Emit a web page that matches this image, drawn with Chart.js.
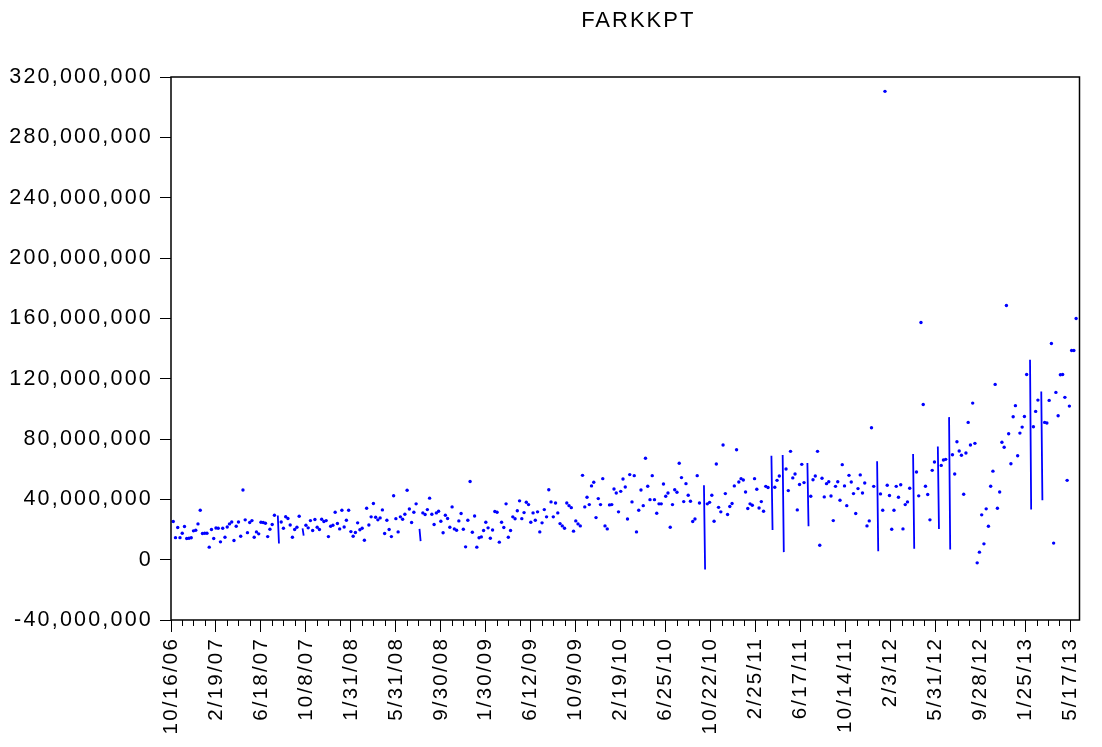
<!DOCTYPE html>
<html>
<head>
<meta charset="utf-8">
<script src="https://cdn.jsdelivr.net/npm/chart.js@4.4.1/dist/chart.umd.min.js"></script>
<style>
  html, body { margin: 0; padding: 0; background: #fff; }
  #wrap { width: 1102px; height: 747px; }
</style>
</head>
<body>
<div id="wrap"><canvas id="grafico" width="1102" height="747"></canvas></div>
<script>
// FARKKPT in millions. Only the non-missing observations are listed:
// obsNo[i] is the observation number, farkkpt[i] its value.
const obsNo = [
  2, 4, 6, 8, 10, 12, 14, 16, 18, 20,
  22, 24, 26, 28, 30, 32, 34, 36, 38, 40,
  42, 44, 46, 48, 50, 52, 54, 56, 58, 60,
  62, 64, 66, 68, 70, 72, 74, 76, 78, 80,
  82, 84, 86, 88, 90, 92, 95, 96, 98, 100,
  102, 104, 106, 108, 110, 112,
  114, 117, 118, 120, 122, 124, 126, 128, 130, 132,
  134, 136, 138, 140, 142, 144, 146, 148, 150, 152,
  154, 156, 158, 160, 162, 164, 166, 168, 170, 172,
  174, 176, 178, 180, 182, 184, 186, 188, 190, 192,
  194, 196, 198, 200, 202, 204, 206, 208, 210, 212,
  214, 216, 218, 221, 222,
  224, 226, 228, 230, 232, 234, 236, 238, 240, 242,
  244, 246, 248, 250, 252, 254, 256, 258, 260, 262,
  264, 266, 268, 270, 272, 274, 276, 278, 280, 282,
  284, 286, 288, 290, 292, 294, 296, 298, 300, 302,
  304, 306, 308, 310, 312, 314, 316, 318, 320, 322,
  324, 326, 328, 330, 332, 334,
  336, 338, 340, 342, 344, 346, 348, 350, 352, 354,
  356, 358, 360, 362, 364, 366, 368, 370, 372, 374,
  376, 378, 380, 382, 384, 386, 388, 390, 392, 394,
  396, 398, 400, 402, 404, 406, 408, 410, 412, 414,
  416, 418, 420, 422, 424, 426, 428, 430, 432, 434,
  436, 438, 440, 442, 444,
  446, 448, 450, 452, 454, 456, 458, 460, 462, 464,
  466, 468, 470, 474, 475, 477, 479, 481, 483, 485,
  487, 489, 491, 493, 495, 497, 499, 501, 503, 505,
  507, 509, 511, 513, 515, 517, 519, 521, 523, 525,
  527, 529, 531, 534, 535, 537, 539, 541, 544, 545,
  547, 549, 551, 553, 555, 557,
  559, 561, 563, 566, 567, 569, 571, 573, 575, 577,
  579, 581, 583, 585, 587, 589, 591, 593, 595, 597,
  599, 601, 603, 605, 607, 609, 611, 613, 615, 617,
  619, 621, 623, 625, 628, 629, 631, 633, 635, 637,
  639, 641, 643, 645, 647, 649, 651, 653, 655,
  657, 660, 661, 663, 665, 667, 669, 671, 673, 675,
  677, 679, 682, 683, 685, 687, 689, 692, 693, 695,
  697, 699, 701, 703, 705, 707, 709, 711, 713, 715,
  717, 719, 721, 723, 725, 727, 729, 731,
  733, 735, 737, 739, 741, 743, 745, 747, 749, 751,
  753, 755, 757, 759, 761, 764, 765, 767, 769, 771,
  774, 775, 777, 779, 781, 783, 785, 787, 789, 791,
  793, 795, 797, 799, 801, 803, 805
];
const farkkpt = [
  25.3, 14.6, 21.3, 14.6, 17.5, 22.0, 14.0, 14.2, 14.5, 19.1,
  19.5, 23.7, 32.8, 17.3, 17.5, 17.5, 8.3, 20.0, 14.0, 21.0,
  20.8, 11.8, 20.8, 14.9, 21.7, 23.7, 25.0, 12.7, 22.2, 25.0,
  15.5, 46.2, 26.4, 17.9, 24.6, 25.9, 14.9, 18.4, 17.1, 24.8,
  24.6, 24.1, 15.3, 20.2, 23.3, 29.4, 29.3, 10.7, 25.0, 20.8,
  28.5, 27.3, 23.0, 14.9, 20.0, 21.5,
  28.8, 20.8, 16.0, 22.8, 21.1, 25.9, 19.3, 26.6, 21.5, 20.0,
  26.8, 25.3, 25.9, 15.3, 22.2, 22.8, 31.4, 24.0, 20.4, 32.8,
  21.7, 26.1, 32.8, 18.6, 15.5, 18.0, 24.4, 19.8, 20.8, 12.9,
  34.1, 23.0, 28.4, 37.2, 28.1, 26.4, 27.7, 33.0, 17.3, 26.1,
  20.0, 15.3, 42.4, 27.2, 18.4, 28.4, 26.8, 30.1, 46.0, 33.6,
  24.6, 31.4, 37.0, 20.4, 12.3,
  31.0, 29.9, 33.2, 40.8, 30.1, 23.3, 31.0, 32.1, 25.5, 17.8,
  29.4, 27.3, 21.5, 35.0, 20.4, 19.5, 25.7, 30.6, 20.2, 8.5,
  26.1, 51.8, 18.2, 29.0, 8.3, 14.5, 15.1, 19.3, 24.8, 21.1,
  14.2, 19.7, 31.9, 31.4, 11.6, 24.8, 21.3, 37.0, 14.9, 19.3,
  28.4, 27.1, 32.4, 39.0, 27.2, 31.2, 38.1, 36.5, 24.8, 31.0,
  26.1, 31.7, 18.4, 24.4, 33.2, 28.4,
  46.4, 38.3, 28.4, 37.6, 31.0, 23.9, 22.4, 20.8, 37.6, 35.8,
  34.5, 18.9, 25.7, 23.7, 22.4, 55.9, 35.0, 41.4, 36.5, 48.9,
  51.3, 27.9, 40.5, 36.5, 53.7, 22.4, 20.4, 36.3, 36.5, 46.9,
  44.2, 31.7, 45.3, 53.5, 48.2, 27.0, 56.4, 38.3, 55.7, 18.4,
  32.8, 46.2, 35.8, 67.2, 48.7, 39.8, 55.7, 39.8, 30.8, 37.0,
  37.0, 50.2, 42.0, 44.2, 21.5,
  36.5, 46.4, 44.7, 63.9, 54.4, 38.5, 50.4, 42.7, 38.7, 25.3,
  27.0, 55.7, 37.6, 49.3, -6.5, 37.0, 38.0, 42.7, 25.5, 63.4,
  34.7, 31.7, 76.0, 43.8, 29.9, 35.2, 37.2, 48.9, 72.9, 51.5,
  53.7, 52.8, 44.9, 33.9, 37.0, 36.1, 53.7, 46.7, 34.3, 38.5,
  32.1, 48.6, 47.8, 68.9, 19.7, 48.0, 52.6, 55.5, 69.4, 5.0,
  60.1, 45.8, 71.8, 54.2, 56.8, 33.0,
  49.8, 63.2, 51.1, 64.1, 22.2, 42.0, 53.0, 55.5, 71.8, 9.6,
  54.0, 41.6, 50.4, 51.7, 42.2, 25.9, 48.6, 51.7, 39.4, 63.0,
  48.9, 35.8, 55.9, 51.5, 43.8, 30.6, 47.1, 56.2, 44.2, 50.8,
  22.4, 25.7, 87.5, 48.6, 65.2, 5.6, 43.6, 32.8, 310.5, 49.3,
  42.5, 20.2, 32.8, 48.6, 41.4, 49.7, 20.4, 36.5, 38.3,
  47.3, 70.0, 7.2, 58.1, 42.3, 157.2, 102.9, 48.7, 43.2, 26.4,
  59.2, 64.8, 75.1, 20.4, 62.5, 66.1, 66.5, 94.5, 6.7, 69.6,
  56.8, 78.2, 72.0, 69.2, 43.4, 70.7, 91.0, 76.0, 103.8, 77.1,
  -2.1, 5.0, 29.7, 10.5, 33.7, 22.2, 48.7, 58.7,
  116.2, 34.1, 44.9, 77.8, 74.5, 168.5, 83.5, 63.6, 94.8, 102.1,
  68.9, 83.9, 87.9, 94.9, 122.8, 132.5, 33.2, 88.1, 98.3, 105.8,
  111.5, 39.4, 91.0, 90.6, 105.6, 143.3, 11.0, 110.9, 95.4, 122.6,
  122.8, 107.6, 52.6, 101.8, 138.7, 138.7, 159.9
];

// date labels, one every 40 observations
const tickDates = [
  '10/16/06', '2/19/07', '6/18/07', '10/8/07', '1/31/08', '5/31/08', '9/30/08',
  '1/30/09', '6/12/09', '10/9/09', '2/19/10', '6/25/10', '10/22/10', '2/25/11',
  '6/17/11', '10/14/11', '2/3/12', '5/31/12', '9/28/12', '1/25/13', '5/17/13'
];
const nObs = 808;
const obsPerTick = 40;
const obsPerMinor = 10;

// full sample with NA (null) where there is no observation,
// so the line only joins consecutive observations
const serie = [];
for (let i = 0; i <= nObs; i++) serie.push({ x: i, y: null });
obsNo.forEach((n, i) => { serie[n].y = farkkpt[i]; });

function isolated(ctx) {
  const i = ctx.dataIndex;
  const prev = serie[i - 1], next = serie[i + 1];
  return (!prev || prev.y === null) && (!next || next.y === null);
}

const FONTE = "'Liberation Sans', Arial, sans-serif";

// eviews-like frame, minor ticks and title
const moldura = {
  id: 'moldura',
  beforeDraw(chart) {
    chart.ctx.letterSpacing = '2.2px';
  },
  afterDraw(chart) {
    const { ctx, chartArea: a } = chart;
    const xs = chart.scales.x;
    ctx.save();
    ctx.strokeStyle = '#000';
    ctx.lineWidth = 1.5;
    ctx.strokeRect(a.left, a.top, a.right - a.left, a.bottom - a.top);
    ctx.lineWidth = 1;
    for (let i = 0; i <= nObs; i += obsPerMinor) {
      if (i % obsPerTick === 0) continue;
      const px = Math.round(xs.getPixelForValue(i)) + 0.5;
      ctx.beginPath();
      ctx.moveTo(px, a.bottom);
      ctx.lineTo(px, a.bottom + 6);
      ctx.stroke();
    }
    ctx.fillStyle = '#000';
    ctx.font = '22px ' + FONTE;
    ctx.letterSpacing = '2px';
    ctx.textAlign = 'center';
    ctx.textBaseline = 'middle';
    ctx.fillText('FARKKPT', (a.left + a.right) / 2 + 13, 21);
    ctx.restore();
  }
};

const grafico = new Chart(document.getElementById('grafico'), {
  type: 'line',
  data: {
    datasets: [{
      label: 'FARKKPT',
      data: serie,
      borderColor: '#0000ff',
      backgroundColor: '#0000ff',
      borderWidth: 1.8,
      pointRadius: ctx => isolated(ctx) ? 1.7 : 0,
      pointBorderWidth: 0,
      pointHoverRadius: 0,
      spanGaps: false,
      tension: 0,
      clip: 4
    }]
  },
  options: {
    responsive: false,
    devicePixelRatio: 1,
    animation: false,
    events: [],
    layout: { padding: { top: 77, right: 22.5, left: 0, bottom: 0 } },
    plugins: { legend: { display: false }, tooltip: { enabled: false }, title: { display: false } },
    scales: {
      x: {
        type: 'linear',
        min: 0,
        max: nObs,
        afterFit(scale) { scale.height = 127; },
        border: { display: false },
        grid: { drawOnChartArea: false, color: '#000', tickLength: 12, lineWidth: 1 },
        ticks: {
          stepSize: obsPerTick,
          includeBounds: false,
          autoSkip: false,
          minRotation: 90,
          maxRotation: 90,
          padding: 5,
          color: '#000',
          font: { family: FONTE, size: 20.5 },
          callback: v => tickDates[v / obsPerTick] ?? ''
        }
      },
      y: {
        min: -40,
        max: 320,
        afterFit(scale) { scale.width = 171; },
        border: { display: false },
        grid: { drawOnChartArea: false, color: '#000', tickLength: 11, lineWidth: 1 },
        ticks: {
          stepSize: 40,
          padding: 7,
          color: '#000',
          font: { family: FONTE, size: 21.5 },
          callback: v => (v * 1e6).toLocaleString('en-US')
        }
      }
    }
  },
  plugins: [moldura]
});
</script>
</body>
</html>
